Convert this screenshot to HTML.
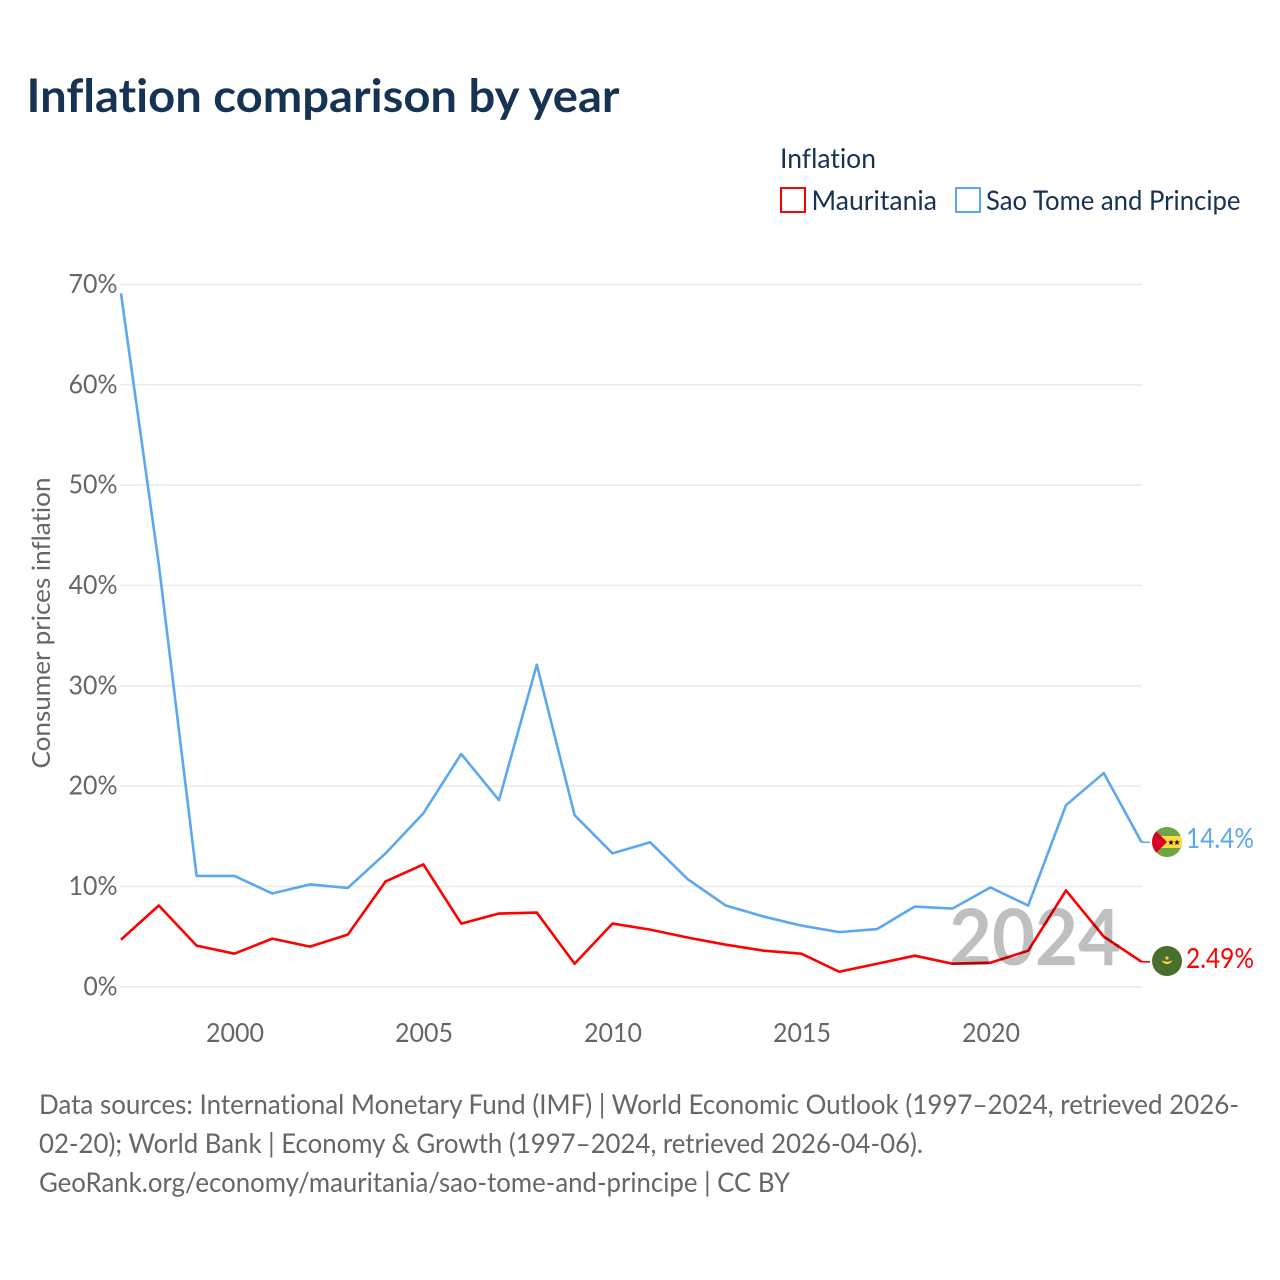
<!DOCTYPE html>
<html lang="en">
<head>
<meta charset="utf-8">
<title>Inflation comparison by year</title>
<style>
html,body{margin:0;padding:0;background:#fff;}
svg{display:block;}
text{font-family:"Lato","Carlito","Liberation Sans",sans-serif;font-variant-ligatures:none;font-feature-settings:"liga" 0,"clig" 0;}
</style>
</head>
<body>
<svg id="chart" xmlns="http://www.w3.org/2000/svg" width="1280" height="1280" viewBox="0 0 1280 1280">
  <rect width="1280" height="1280" fill="#fff"/>
  <text x="26.500" y="112" font-size="46" font-weight="700" fill="#173354" textLength="593" lengthAdjust="spacingAndGlyphs">Inflation comparison by year</text>

  <text x="780" y="168" font-size="27" fill="#173354" textLength="96" lengthAdjust="spacingAndGlyphs">Inflation</text>
  <g>
    <rect x="781" y="188" width="24" height="24" fill="#fff" stroke="#ff0000" stroke-width="2"/>
    <text x="811.500" y="210" font-size="27" fill="#173354" textLength="125.500" lengthAdjust="spacingAndGlyphs">Mauritania</text>
  </g>
  <g>
    <rect x="956" y="188" width="24" height="24" fill="#fff" stroke="#5ca8f0" stroke-width="2"/>
    <text x="986" y="210" font-size="27" fill="#173354" textLength="254.500" lengthAdjust="spacingAndGlyphs">Sao Tome and Principe</text>
  </g>

  <g id="grid"></g>
  <g id="y-ticks"></g>
  <g id="x-ticks"></g>
  <text transform="translate(50,623) rotate(-90)" text-anchor="middle" font-size="25.500" fill="#666" textLength="291" lengthAdjust="spacingAndGlyphs">Consumer prices inflation</text>

  <g id="series"></g>
  <text x="949" y="965" font-size="78" font-weight="700" fill="#000" fill-opacity="0.25" textLength="172" lengthAdjust="spacingAndGlyphs">2024</text>

  <g>
    <clipPath id="clip-st"><circle cx="1167" cy="842" r="15"/></clipPath>
    <g clip-path="url(#clip-st)">
      <rect x="1152" y="827" width="30" height="30" fill="#6da544"/>
      <rect x="1152" y="836" width="30" height="12" fill="#ffda44"/>
      <polygon points="1152,827 1167,842 1152,857" fill="#d80027"/>
      <polygon points="1171,839.500 1171.800,841.500 1174,841.500 1172.200,842.800 1172.900,845 1171,843.700 1169.100,845 1169.800,842.800 1168,841.500 1170.200,841.500" fill="#111"/>
      <polygon points="1177,839.500 1177.800,841.500 1180,841.500 1178.200,842.800 1178.900,845 1177,843.700 1175.100,845 1175.800,842.800 1174,841.500 1176.200,841.500" fill="#111"/>
    </g>
  </g>
  <g>
    <circle cx="1167" cy="961" r="15" fill="#496e2d"/>
    <path d="M1161.500 960 A5.800 5.800 0 0 0 1172.500 960 A7 4.500 0 0 1 1161.500 960 Z" fill="#ffda44"/>
    <polygon points="1167,955.500 1167.700,957.300 1169.500,957.300 1168,958.400 1168.600,960.100 1167,959.100 1165.400,960.100 1166,958.400 1164.500,957.300 1166.300,957.300" fill="#ffda44"/>
  </g>
  <text x="1186" y="848" font-size="28.500" fill="#5ca8f0" textLength="68" lengthAdjust="spacingAndGlyphs">14.4%</text>
  <text x="1186" y="968" font-size="28.500" fill="#ff0000" textLength="68" lengthAdjust="spacingAndGlyphs">2.49%</text>

  <g font-size="27" fill="#666">
    <text x="39" y="1114" textLength="1200" lengthAdjust="spacingAndGlyphs">Data sources: International Monetary Fund (IMF) | World Economic Outlook (1997–2024, retrieved 2026-</text>
    <text x="39" y="1153" textLength="884" lengthAdjust="spacingAndGlyphs">02-20); World Bank | Economy &amp; Growth (1997–2024, retrieved 2026-04-06).</text>
    <text x="39" y="1192" textLength="751" lengthAdjust="spacingAndGlyphs">GeoRank.org/economy/mauritania/sao-tome-and-principe | CC BY</text>
  </g>
</svg>
<script>
const years = [1997,1998,1999,2000,2001,2002,2003,2004,2005,2006,2007,2008,2009,2010,2011,2012,2013,2014,2015,2016,2017,2018,2019,2020,2021,2022,2023,2024];
const saoTomeValues = [69.1,42.1,11.05,11.05,9.3,10.2,9.85,13.3,17.3,23.2,18.6,32.1,17.1,13.3,14.4,10.7,8.1,7.0,6.1,5.45,5.75,8.0,7.8,9.9,8.1,18.1,21.3,14.4];
const mauritaniaValues = [4.7,8.1,4.1,3.3,4.8,4.0,5.2,10.5,12.2,6.3,7.3,7.4,2.3,6.3,5.7,4.9,4.2,3.6,3.3,1.5,2.3,3.1,2.3,2.4,3.6,9.6,5.0,2.49];
const yTickValues = [0,10,20,30,40,50,60,70];
const xTickValues = [2000,2005,2010,2015,2020];

const NS = 'http://www.w3.org/2000/svg';
function xScale(year){ return 121 + (year - 1997) * 37.8; }
function yScale(v){ return 986.8 - v * (986.8 - 284.4) / 70; }

function mk(tag, attrs, parent, text){
  const el = document.createElementNS(NS, tag);
  for (const k in attrs) el.setAttribute(k, attrs[k]);
  if (text !== undefined) el.textContent = text;
  parent.appendChild(el);
  return el;
}

const grid = document.getElementById('grid');
const yTicks = document.getElementById('y-ticks');
yTickValues.forEach(function(v){
  const line = mk('line', {x1:120, x2:1141.7, y1:yScale(v), y2:yScale(v), stroke:'#ebebeb', 'stroke-width':1.6}, grid);
  
  
  const w = v === 0 ? 34 : 49;
  const label = mk('text', {x:117.5, y:yScale(v) + 8.6, 'text-anchor':'end', 'font-size':26.5, fill:'#666', textLength:w, lengthAdjust:'spacingAndGlyphs'}, yTicks, v + '%');
  
  
});

const xTicks = document.getElementById('x-ticks');
xTickValues.forEach(function(y){
  const label = mk('text', {x:xScale(y) + 0.6, y:1042, 'text-anchor':'middle', 'font-size':26.5, fill:'#666', textLength:58, lengthAdjust:'spacingAndGlyphs'}, xTicks, String(y));
  
  
});

function linePoints(values){
  return values.map(function(v, i){ return xScale(years[i]).toFixed(2) + ',' + yScale(v).toFixed(2); }).join(' ');
}
const seriesGroup = document.getElementById('series');

const saoLine = mk('polyline', {points:linePoints(saoTomeValues), fill:'none', stroke:'#5ca8f0', 'stroke-width':2.6, 'stroke-linejoin':'round'}, seriesGroup);



const maurLine = mk('polyline', {points:linePoints(mauritaniaValues), fill:'none', stroke:'#ff0000', 'stroke-width':2.6, 'stroke-linejoin':'round'}, seriesGroup);



const lastYear = years[years.length - 1];
const saoLead = mk('line', {x1:xScale(lastYear), x2:1150, y1:yScale(saoTomeValues[saoTomeValues.length - 1]), y2:yScale(saoTomeValues[saoTomeValues.length - 1]), stroke:'#5ca8f0', 'stroke-width':1.6}, seriesGroup);



const maurLead = mk('line', {x1:xScale(lastYear), x2:1150, y1:yScale(mauritaniaValues[mauritaniaValues.length - 1]), y2:yScale(mauritaniaValues[mauritaniaValues.length - 1]), stroke:'#ff0000', 'stroke-width':1.6}, seriesGroup);


</script>
</body>
</html>
